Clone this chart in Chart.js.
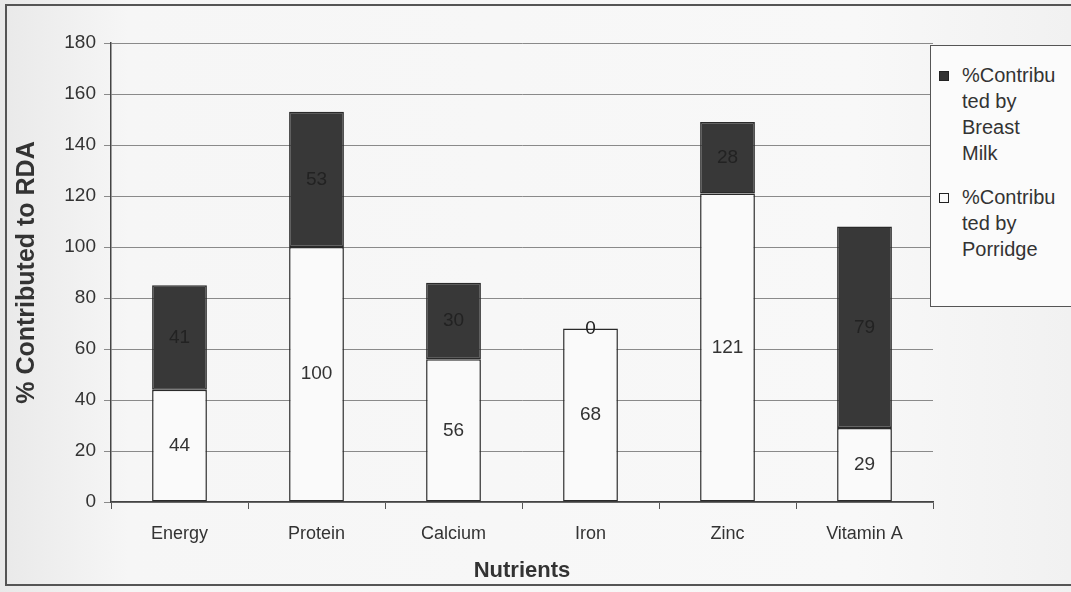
<!DOCTYPE html>
<html>
<head>
<meta charset="utf-8">
<script src="https://cdn.jsdelivr.net/npm/chart.js@4.4.0/dist/chart.umd.min.js"></script>
<style>
  html, body { margin: 0; padding: 0; background: #f3f3f3; }
  #wrap { position: relative; width: 1071px; height: 592px; overflow: hidden;
          background: linear-gradient(90deg, #e9e9e9 0%, #f6f6f6 12%, #f8f8f8 80%, #f1f1f1 100%); }
  #frame { position: absolute; left: 5px; top: 4px; width: 1080px; height: 582px;
           border: 2px solid #555; box-sizing: border-box; }
  canvas { position: absolute; left: 0; top: 0; }
  #legend { position: absolute; left: 930px; top: 45px; width: 160px; height: 262px;
            background: #fbfbfb; border: 1px solid #555; box-sizing: border-box;
            font-family: "Liberation Sans", Arial, sans-serif; font-size: 20px; color: #333; line-height: 26px; }
  .item { position: absolute; left: 8px; }
  .sw { position: absolute; left: 0; top: 9px; width: 10px; height: 10px; border: 1px solid #222; box-sizing: border-box; }
  .txt { position: absolute; left: 23px; top: 0; white-space: nowrap; }
</style>
</head>
<body>
<div id="wrap">
  <div id="frame"></div>
  <canvas id="nutrientChart" width="1071" height="592"></canvas>
  <div id="legend">
    <div class="item" style="top:16px"><div class="sw" style="background:#333"></div>
      <div class="txt">%Contribu<br>ted by<br>Breast<br>Milk</div></div>
    <div class="item" style="top:138px"><div class="sw" style="background:#fafafa"></div>
      <div class="txt">%Contribu<br>ted by<br>Porridge</div></div>
  </div>
</div>
<script>
const nutrients = ['Energy', 'Protein', 'Calcium', 'Iron', 'Zinc', 'Vitamin A'];
const porridge = [44, 100, 56, 68, 121, 29];
const breastMilk = [41, 53, 30, 0, 28, 79];
const yTicks = [0, 20, 40, 60, 80, 100, 120, 140, 160, 180];

const FONT = '"Liberation Sans", Arial, sans-serif';

// draws the value in the middle of every stacked segment
const segmentLabels = {
    id: 'segmentLabels',
    afterDatasetsDraw(chart) {
        const ctx = chart.ctx;
        ctx.save();
        ctx.font = '19px ' + FONT;
        ctx.textAlign = 'center';
        ctx.textBaseline = 'middle';
        chart.data.datasets.forEach((ds, i) => {
            const meta = chart.getDatasetMeta(i);
            meta.data.forEach((bar, j) => {
                ctx.fillStyle = i === 0 ? '#333' : '#222';
                ctx.fillText(String(ds.data[j]), bar.x, (bar.y + bar.base) / 2);
            });
        });
        ctx.restore();
    }
};

const ctx = document.getElementById('nutrientChart').getContext('2d');
new Chart(ctx, {
    type: 'bar',
    data: {
        labels: nutrients,
        datasets: [
            {
                label: '%Contributed by Porridge',
                data: porridge,
                backgroundColor: '#fafafa',
                borderColor: '#2a2a2a',
                borderWidth: 1.5,
                borderSkipped: false
            },
            {
                label: '%Contributed by Breast Milk',
                data: breastMilk,
                backgroundColor: '#383838',
                borderColor: '#2a2a2a',
                borderWidth: 1.5,
                borderSkipped: false
            }
        ]
    },
    plugins: [segmentLabels],
    options: {
        responsive: false,
        animation: false,
        layout: { padding: { left: 0, right: 138, top: 43, bottom: 0 } },
        datasets: { bar: { barPercentage: 0.4, categoryPercentage: 1 } },
        plugins: { legend: { display: false }, tooltip: { enabled: false } },
        scales: {
            x: {
                stacked: true,
                afterFit: s => { s.height = 90; },
                grid: { offset: true, drawOnChartArea: false, drawTicks: true, tickLength: 7, color: '#555' },
                border: { color: '#444', width: 1.5 },
                ticks: { color: '#333', font: { family: FONT, size: 18 }, padding: 14 },
                title: { display: true, text: 'Nutrients', color: '#333',
                         font: { family: FONT, size: 22, weight: 'bold' }, padding: { top: 0, bottom: 8 } }
            },
            y: {
                stacked: true,
                min: 0,
                max: 180,
                afterFit: s => { s.width = 111; },
                afterBuildTicks: s => { s.ticks = yTicks.map(v => ({ value: v })); },
                grid: { color: '#8a8a8a', tickLength: 7, lineWidth: 1 },
                border: { color: '#444', width: 1.5 },
                ticks: { color: '#333', font: { family: FONT, size: 19 }, padding: 8 },
                title: { display: true, text: '% Contributed to RDA', color: '#333',
                         font: { family: FONT, size: 25, weight: 'bold' }, padding: { top: 12, bottom: 0 } }
            }
        }
    }
});
</script>
</body>
</html>
